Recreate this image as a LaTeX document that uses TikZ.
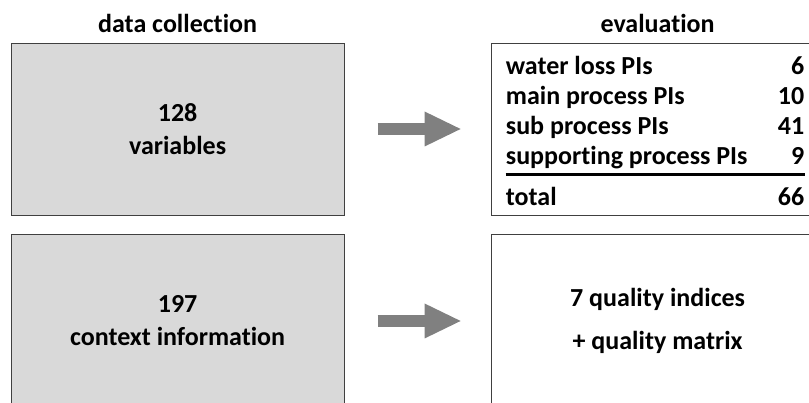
\documentclass[tikz,border=0pt]{standalone}
\usepackage{fontspec}
\setmainfont{Carlito}[Ligatures=NoCommon]
\usetikzlibrary{positioning,arrows.meta}

\begin{document}
\begin{tikzpicture}[
    every node/.style={font=\fontsize{18.5}{23.4}\selectfont\bfseries},
    stage/.style={draw=black!75, line width=0.7pt, minimum width=8.325cm, minimum height=4.3cm, inner sep=0pt, align=center},
    title/.style={inner sep=0pt},
    entry/.style={inner sep=0pt},
    flow/.style={gray, line width=0.3cm, shorten <=0.825cm, shorten >=0.75cm, -{Triangle[length=0.9cm, width=0.875cm, line width=0pt]}}
]
    \useasboundingbox (0,0) rectangle (20.225,10.075);
    \clip (0,0) rectangle (20.225,10.075);

    % Data collection (left column)
    \node[stage, fill=black!15] (vars) at (4.44,6.85) {128\\variables};
    \node[stage, fill=black!15, below=0.475cm of vars] (ctx) {197\\context information};
    \node[title, above=0.25cm of vars] (collect) {data collection};

    % Evaluation (right column)
    \node[stage, right=3.65cm of vars] (pis) {};
    \node[stage, below=0.475cm of pis] (qual) {7 quality indices\\[0.25cm]+ quality matrix};
    \node[title, above=0.25cm of pis] (evaluate) {evaluation};

    % PI table
    \foreach \pname/\cnt [count=\i] in {water loss PIs/6, main process PIs/10, sub process PIs/41, supporting process PIs/9} {
        \node[entry, anchor=base west] (lbl\i) at ([xshift=0.375cm, yshift={-0.05cm-0.75cm*\i}]pis.north west) {\pname};
        \node[entry, anchor=base east] (num\i) at ([xshift=-0.5cm, yshift={-0.05cm-0.75cm*\i}]pis.north east) {\cnt};
    }
    \draw[line width=1.5pt] ([yshift=-0.25cm]lbl4.base west) -- ([yshift=-0.25cm]num4.base east);
    \node[entry, anchor=base west] (lbl5) at ([xshift=0.375cm, yshift=-4.075cm]pis.north west) {total};
    \node[entry, anchor=base east] (num5) at ([xshift=-0.5cm, yshift=-4.075cm]pis.north east) {66};

    % Arrows
    \draw[flow] (vars) -- (pis);
    \draw[flow] (ctx) -- (qual);

\end{tikzpicture}
\end{document}
